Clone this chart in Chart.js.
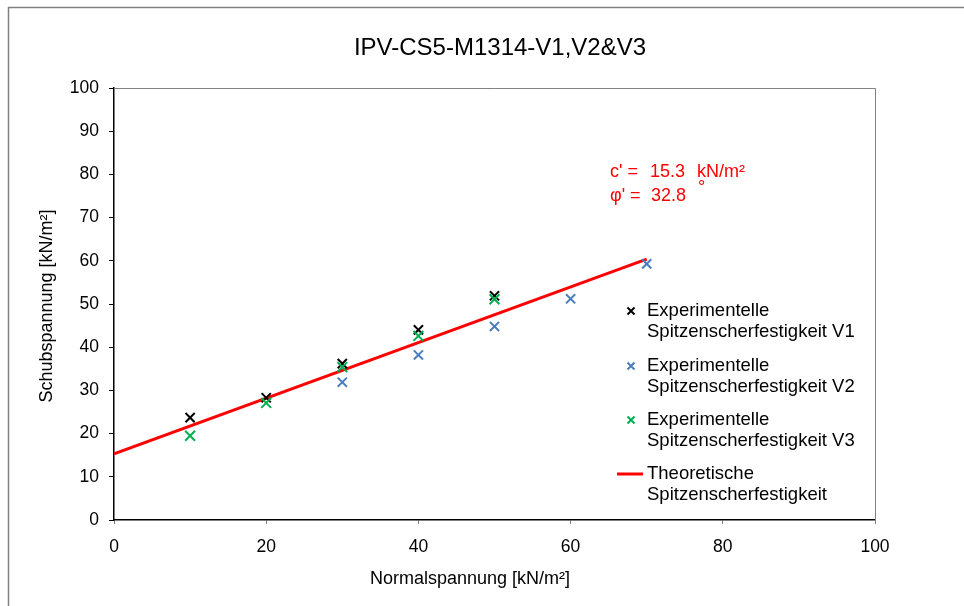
<!DOCTYPE html>
<html>
<head>
<meta charset="utf-8">
<script src="https://cdn.jsdelivr.net/npm/chart.js@4"></script>
<style>
    body { margin: 0; background: #fff; }
    #wrap { width: 964px; height: 606px; }
</style>
</head>
<body>
<div id="wrap"><canvas id="chart" width="964" height="606"></canvas></div>
<script>
// data
const normalV1 = [10, 20, 30, 40, 50];
const shearV1 = [23.7, 28.3, 36.2, 44.0, 51.9];
const normalV2 = [30, 40, 50, 60, 70];
const shearV2 = [31.9, 38.2, 44.8, 51.2, 59.3];
const normalV3 = [10, 20, 30, 40, 50];
const shearV3 = [19.5, 27.1, 35.4, 42.6, 51.1];
const lineX = [0, 70];
const lineY = [15.3, 60.4];

const xTicks = [0, 20, 40, 60, 80, 100];
const yTicks = [0, 10, 20, 30, 40, 50, 60, 70, 80, 90, 100];

const FONT = "'Liberation Sans', Arial, sans-serif";
const BLUE = '#4a7ebb';
const GREEN = '#00b050';
const RED = '#ff0000';

const pts = (xs, ys) => xs.map((x, i) => ({ x: x, y: ys[i] }));

const cross = (ctx, x, y, r, color) => {
    ctx.strokeStyle = color;
    ctx.lineWidth = 2;
    ctx.beginPath();
    ctx.moveTo(x - r, y - r); ctx.lineTo(x + r, y + r);
    ctx.moveTo(x - r, y + r); ctx.lineTo(x + r, y - r);
    ctx.stroke();
};

const decor = {
    id: 'decor',
    afterDraw(chart) {
        const ctx = chart.ctx;
        const a = chart.chartArea;
        ctx.save();
        // outer frame
        ctx.strokeStyle = '#808080';
        ctx.lineWidth = 1.5;
        ctx.strokeRect(8.5, 7.5, 1000, 700);
        // top and right frame of the plot
        ctx.lineWidth = 1;
        ctx.beginPath();
        ctx.moveTo(a.left, a.top + 0.5); ctx.lineTo(a.right + 0.5, a.top + 0.5);
        ctx.lineTo(a.right + 0.5, a.bottom + 3);
        ctx.stroke();

        ctx.fillStyle = '#000';
        ctx.textBaseline = 'middle';
        ctx.textAlign = 'center';
        ctx.font = '24px ' + FONT;
        ctx.fillText('IPV-CS5-M1314-V1,V2&V3', 500, 48);

        ctx.font = '18px ' + FONT;
        ctx.fillText('Normalspannung [kN/m²]', 470, 579);
        ctx.save();
        ctx.translate(47, 306);
        ctx.rotate(-Math.PI / 2);
        ctx.fillText('Schubspannung [kN/m²]', 0, 0);
        ctx.restore();

        // c' and phi' note
        ctx.fillStyle = RED;
        ctx.textAlign = 'left';
        ctx.font = '18px ' + FONT;
        ctx.fillText("c' =", 610, 172);
        ctx.fillText('15.3', 650, 172);
        ctx.fillText('kN/m²', 697, 172);
        ctx.fillText("φ' =", 610, 196);
        ctx.fillText('32.8', 651, 196);
        ctx.fillText('°', 698, 188);

        // legend
        const items = [
            ['Experimentelle', 'Spitzenscherfestigkeit V1', '#000', 311],
            ['Experimentelle', 'Spitzenscherfestigkeit V2', BLUE, 366],
            ['Experimentelle', 'Spitzenscherfestigkeit V3', GREEN, 420],
            ['Theoretische', 'Spitzenscherfestigkeit', RED, 474],
        ];
        ctx.font = '18.5px ' + FONT;
        items.forEach((it, i) => {
            if (i < 3) {
                cross(ctx, 631, it[3], 3.5, it[2]);
            } else {
                ctx.strokeStyle = RED;
                ctx.lineWidth = 3;
                ctx.beginPath();
                ctx.moveTo(617, it[3]); ctx.lineTo(643, it[3]);
                ctx.stroke();
            }
            ctx.fillStyle = '#000';
            ctx.fillText(it[0], 647, it[3]);
            ctx.fillText(it[1], 647, it[3] + 21);
        });
        ctx.restore();
    }
};

const ctx = document.querySelector('#chart').getContext('2d');
const chart = new Chart(ctx, {
    type: 'scatter',
    data: {
        datasets: [{
            type: 'line',
            label: 'Theoretische Spitzenscherfestigkeit',
            data: pts(lineX, lineY),
            borderColor: RED,
            borderWidth: 3,
            pointRadius: 0,
            order: 4,
        }, {
            label: 'Experimentelle Spitzenscherfestigkeit V2',
            data: pts(normalV2, shearV2),
            pointStyle: 'crossRot',
            pointRadius: 6.5,
            borderColor: BLUE,
            pointBorderWidth: 2,
            order: 3,
        }, {
            label: 'Experimentelle Spitzenscherfestigkeit V1',
            data: pts(normalV1, shearV1),
            pointStyle: 'crossRot',
            pointRadius: 6.5,
            borderColor: '#000',
            pointBorderWidth: 2,
            order: 2,
        }, {
            label: 'Experimentelle Spitzenscherfestigkeit V3',
            data: pts(normalV3, shearV3),
            pointStyle: 'crossRot',
            pointRadius: 7,
            borderColor: GREEN,
            pointBorderWidth: 2,
            order: 1,
        }]
    },
    options: {
        responsive: false,
        animation: false,
        layout: {
            padding: { left: 0, top: 88, right: 89, bottom: 0 }
        },
        scales: {
            x: {
                type: 'linear',
                min: 0,
                max: 100,
                afterFit: (s) => { s.height = 86; },
                afterBuildTicks: (s) => { s.ticks = xTicks.map(v => ({ value: v })); },
                border: { color: '#000', width: 1.5 },
                grid: { drawOnChartArea: false, tickLength: 4, color: '#808080' },
                ticks: { padding: 13, color: '#000', font: { family: FONT, size: 17.5 } }
            },
            y: {
                type: 'linear',
                min: 0,
                max: 100,
                afterFit: (s) => { s.width = 114; },
                afterBuildTicks: (s) => { s.ticks = yTicks.map(v => ({ value: v })); },
                border: { color: '#000', width: 1.5 },
                grid: { drawOnChartArea: false, tickLength: 5, color: '#000' },
                ticks: { padding: 10, color: '#000', font: { family: FONT, size: 17.5 } }
            }
        },
        plugins: {
            legend: { display: false },
            title: { display: false },
            tooltip: { enabled: false }
        }
    },
    plugins: [decor]
});
</script>
</body>
</html>
